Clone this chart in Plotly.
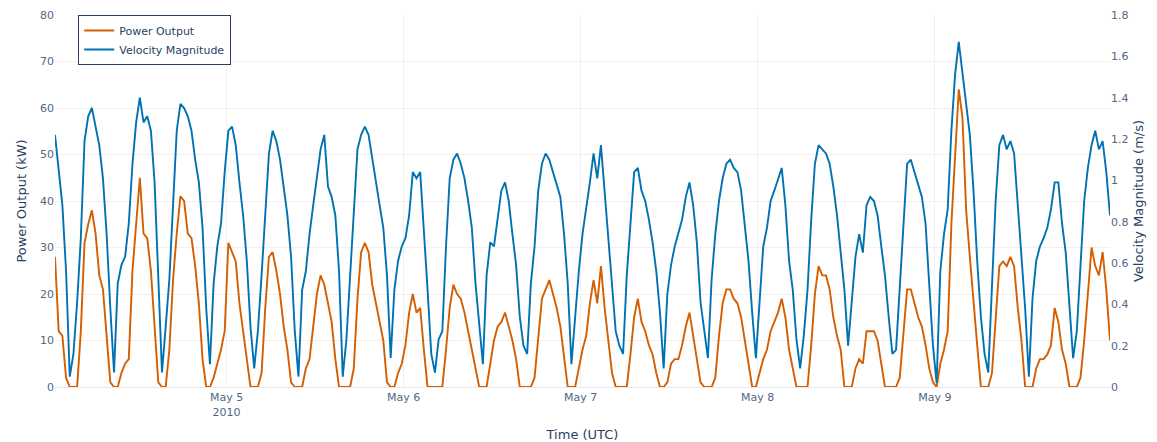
import pandas as pd
import plotly.graph_objects as go

# Time stamps (UTC), 30-minute sampling
start_time = "2010-05-04 00:45"
step = "30min"

# Power output (kW)
power_kw = [
    28, 12, 11, 2, 0, 0, 0, 12, 31, 35, 38, 33, 24, 21, 11, 1, 0, 0, 3, 5,
    6, 25, 35, 45, 33, 32, 25, 14, 1, 0, 0, 8, 23, 33, 41, 40, 33, 32, 26, 18,
    6, 0, 0, 2, 5, 8, 12, 31, 29, 27, 18, 12, 5, 0, 0, 0, 3, 17, 28, 29,
    25, 20, 13, 8, 1, 0, 0, 0, 4, 6, 13, 20, 24, 22, 18, 14, 6, 0, 0, 0,
    0, 4, 19, 29, 31, 29, 22, 18, 14, 10, 1, 0, 0, 3, 5, 9, 16, 20, 16, 17,
    8, 0, 0, 0, 0, 0, 8, 17, 22, 20, 19, 16, 12, 8, 4, 0, 0, 0, 5, 10,
    13, 14, 16, 13, 10, 6, 0, 0, 0, 0, 2, 10, 19, 21, 23, 20, 17, 13, 7, 0,
    0, 0, 4, 8, 11, 18, 23, 18, 26, 17, 10, 3, 0, 0, 0, 0, 7, 15, 19, 14,
    12, 9, 7, 3, 0, 0, 1, 5, 6, 6, 9, 13, 16, 11, 7, 1, 0, 0, 0, 2,
    11, 18, 21, 21, 19, 18, 15, 10, 5, 0, 0, 3, 6, 8, 12, 14, 16, 19, 15, 8,
    4, 0, 0, 0, 0, 9, 20, 26, 24, 24, 21, 15, 11, 8, 0, 0, 0, 4, 6, 5,
    12, 12, 12, 10, 5, 0, 0, 0, 0, 2, 12, 21, 21, 18, 15, 13, 9, 4, 1, 0,
    5, 8, 12, 35, 50, 64, 58, 38, 28, 18, 9, 0, 0, 0, 3, 15, 26, 27, 26, 28,
    26, 17, 10, 0, 0, 0, 4, 6, 6, 7, 9, 17, 14, 8, 5, 0, 0, 0, 2, 10,
    20, 30, 26, 24, 29, 21, 10,
]

# Velocity magnitude (m/s)
velocity_ms = [
    1.22, 1.04, 0.88, 0.56, 0.05, 0.16, 0.41, 0.72, 1.19, 1.31, 1.35, 1.26, 1.17, 1.01, 0.74, 0.38, 0.07, 0.50, 0.59, 0.63,
    0.79, 1.08, 1.28, 1.40, 1.28, 1.31, 1.24, 0.99, 0.52, 0.07, 0.29, 0.52, 0.88, 1.24, 1.37, 1.35, 1.31, 1.24, 1.10, 0.99,
    0.77, 0.38, 0.11, 0.50, 0.68, 0.79, 1.04, 1.24, 1.26, 1.17, 0.99, 0.83, 0.61, 0.29, 0.09, 0.27, 0.54, 0.86, 1.13, 1.24,
    1.19, 1.10, 0.97, 0.83, 0.63, 0.27, 0.05, 0.47, 0.56, 0.74, 0.88, 1.01, 1.15, 1.22, 0.97, 0.92, 0.83, 0.56, 0.05, 0.23,
    0.54, 0.90, 1.15, 1.22, 1.26, 1.22, 1.10, 0.99, 0.88, 0.77, 0.54, 0.14, 0.47, 0.61, 0.68, 0.72, 0.83, 1.04, 1.01, 1.04,
    0.77, 0.47, 0.16, 0.07, 0.23, 0.27, 0.68, 1.01, 1.10, 1.13, 1.08, 1.01, 0.90, 0.77, 0.50, 0.32, 0.11, 0.54, 0.70, 0.68,
    0.81, 0.95, 0.99, 0.90, 0.74, 0.59, 0.34, 0.20, 0.16, 0.50, 0.68, 0.95, 1.08, 1.13, 1.10, 1.04, 0.99, 0.92, 0.74, 0.50,
    0.11, 0.36, 0.56, 0.74, 0.86, 0.99, 1.13, 1.01, 1.17, 0.95, 0.70, 0.50, 0.27, 0.20, 0.16, 0.54, 0.81, 1.04, 1.06, 0.95,
    0.90, 0.81, 0.70, 0.56, 0.36, 0.09, 0.45, 0.59, 0.68, 0.74, 0.81, 0.92, 0.99, 0.88, 0.70, 0.41, 0.27, 0.14, 0.52, 0.74,
    0.90, 1.01, 1.08, 1.10, 1.06, 1.04, 0.95, 0.79, 0.61, 0.36, 0.14, 0.41, 0.68, 0.77, 0.90, 0.95, 1.01, 1.06, 0.88, 0.61,
    0.47, 0.23, 0.09, 0.25, 0.47, 0.81, 1.08, 1.17, 1.15, 1.13, 1.08, 0.97, 0.83, 0.65, 0.47, 0.20, 0.41, 0.63, 0.74, 0.65,
    0.88, 0.92, 0.90, 0.83, 0.68, 0.54, 0.34, 0.16, 0.18, 0.47, 0.81, 1.08, 1.10, 1.04, 0.97, 0.92, 0.79, 0.50, 0.20, 0.02,
    0.56, 0.74, 0.86, 1.24, 1.51, 1.67, 1.51, 1.37, 1.22, 0.95, 0.61, 0.34, 0.16, 0.07, 0.50, 0.90, 1.17, 1.22, 1.15, 1.19,
    1.13, 0.88, 0.63, 0.38, 0.05, 0.43, 0.61, 0.68, 0.72, 0.77, 0.86, 0.99, 0.99, 0.79, 0.65, 0.41, 0.14, 0.27, 0.59, 0.90,
    1.06, 1.17, 1.24, 1.15, 1.19, 1.04, 0.83,
]

n = min(len(power_kw), len(velocity_ms))
times = pd.date_range(start_time, periods=n, freq=step)

ORANGE = "#D55E00"
BLUE = "#0072B2"
FONT = "Verdana, DejaVu Sans, sans-serif"
TXT = "#2a3f5f"
TICK = "#506784"

fig = go.Figure()
fig.add_trace(go.Scatter(x=times, y=power_kw[:n], name="Power Output", mode="lines",
                         line=dict(color=ORANGE, width=1.9), yaxis="y"))
fig.add_trace(go.Scatter(x=times, y=velocity_ms[:n], name="Velocity Magnitude", mode="lines",
                         line=dict(color=BLUE, width=1.9), yaxis="y2"))

fig.update_layout(
    width=1157, height=442,
    template="plotly_white",
    paper_bgcolor="white", plot_bgcolor="white",
    font=dict(family=FONT, size=11, color=TXT),
    margin=dict(l=55, r=47, t=15, b=55, autoexpand=False),
    legend=dict(x=0.022, y=1.0, xanchor="left", yanchor="top",
                bordercolor="#2a3f5f", borderwidth=1, bgcolor="white",
                font=dict(size=11)),
    xaxis=dict(title=dict(text="Time (UTC)", font=dict(size=13), standoff=12),
               automargin=False,
               showgrid=True, gridcolor="#f0f0f0", dtick=86400000,
               tick0="2010-05-05", zeroline=False,
               showline=True, linecolor="#e6e9ef",
               tickfont=dict(size=11, color=TICK)),
    yaxis=dict(title=dict(text="Power Output (kW)", font=dict(size=13), standoff=10),
               automargin=False,
               range=[0, 80], dtick=10, showgrid=True, gridcolor="#f6efe9",
               zeroline=False, tickfont=dict(size=11, color=TICK)),
    yaxis2=dict(title=dict(text="Velocity Magnitude (m/s)", font=dict(size=13), standoff=6),
                automargin=False,
                overlaying="y", side="right", range=[0, 1.8], dtick=0.2,
                showgrid=False, zeroline=False,
                tickfont=dict(size=11, color=TICK)),
)

fig.write_html(
    "out.html",
    config={"displayModeBar": False},
    post_script="document.body.style.margin='0';document.body.style.overflow='hidden';",
)
